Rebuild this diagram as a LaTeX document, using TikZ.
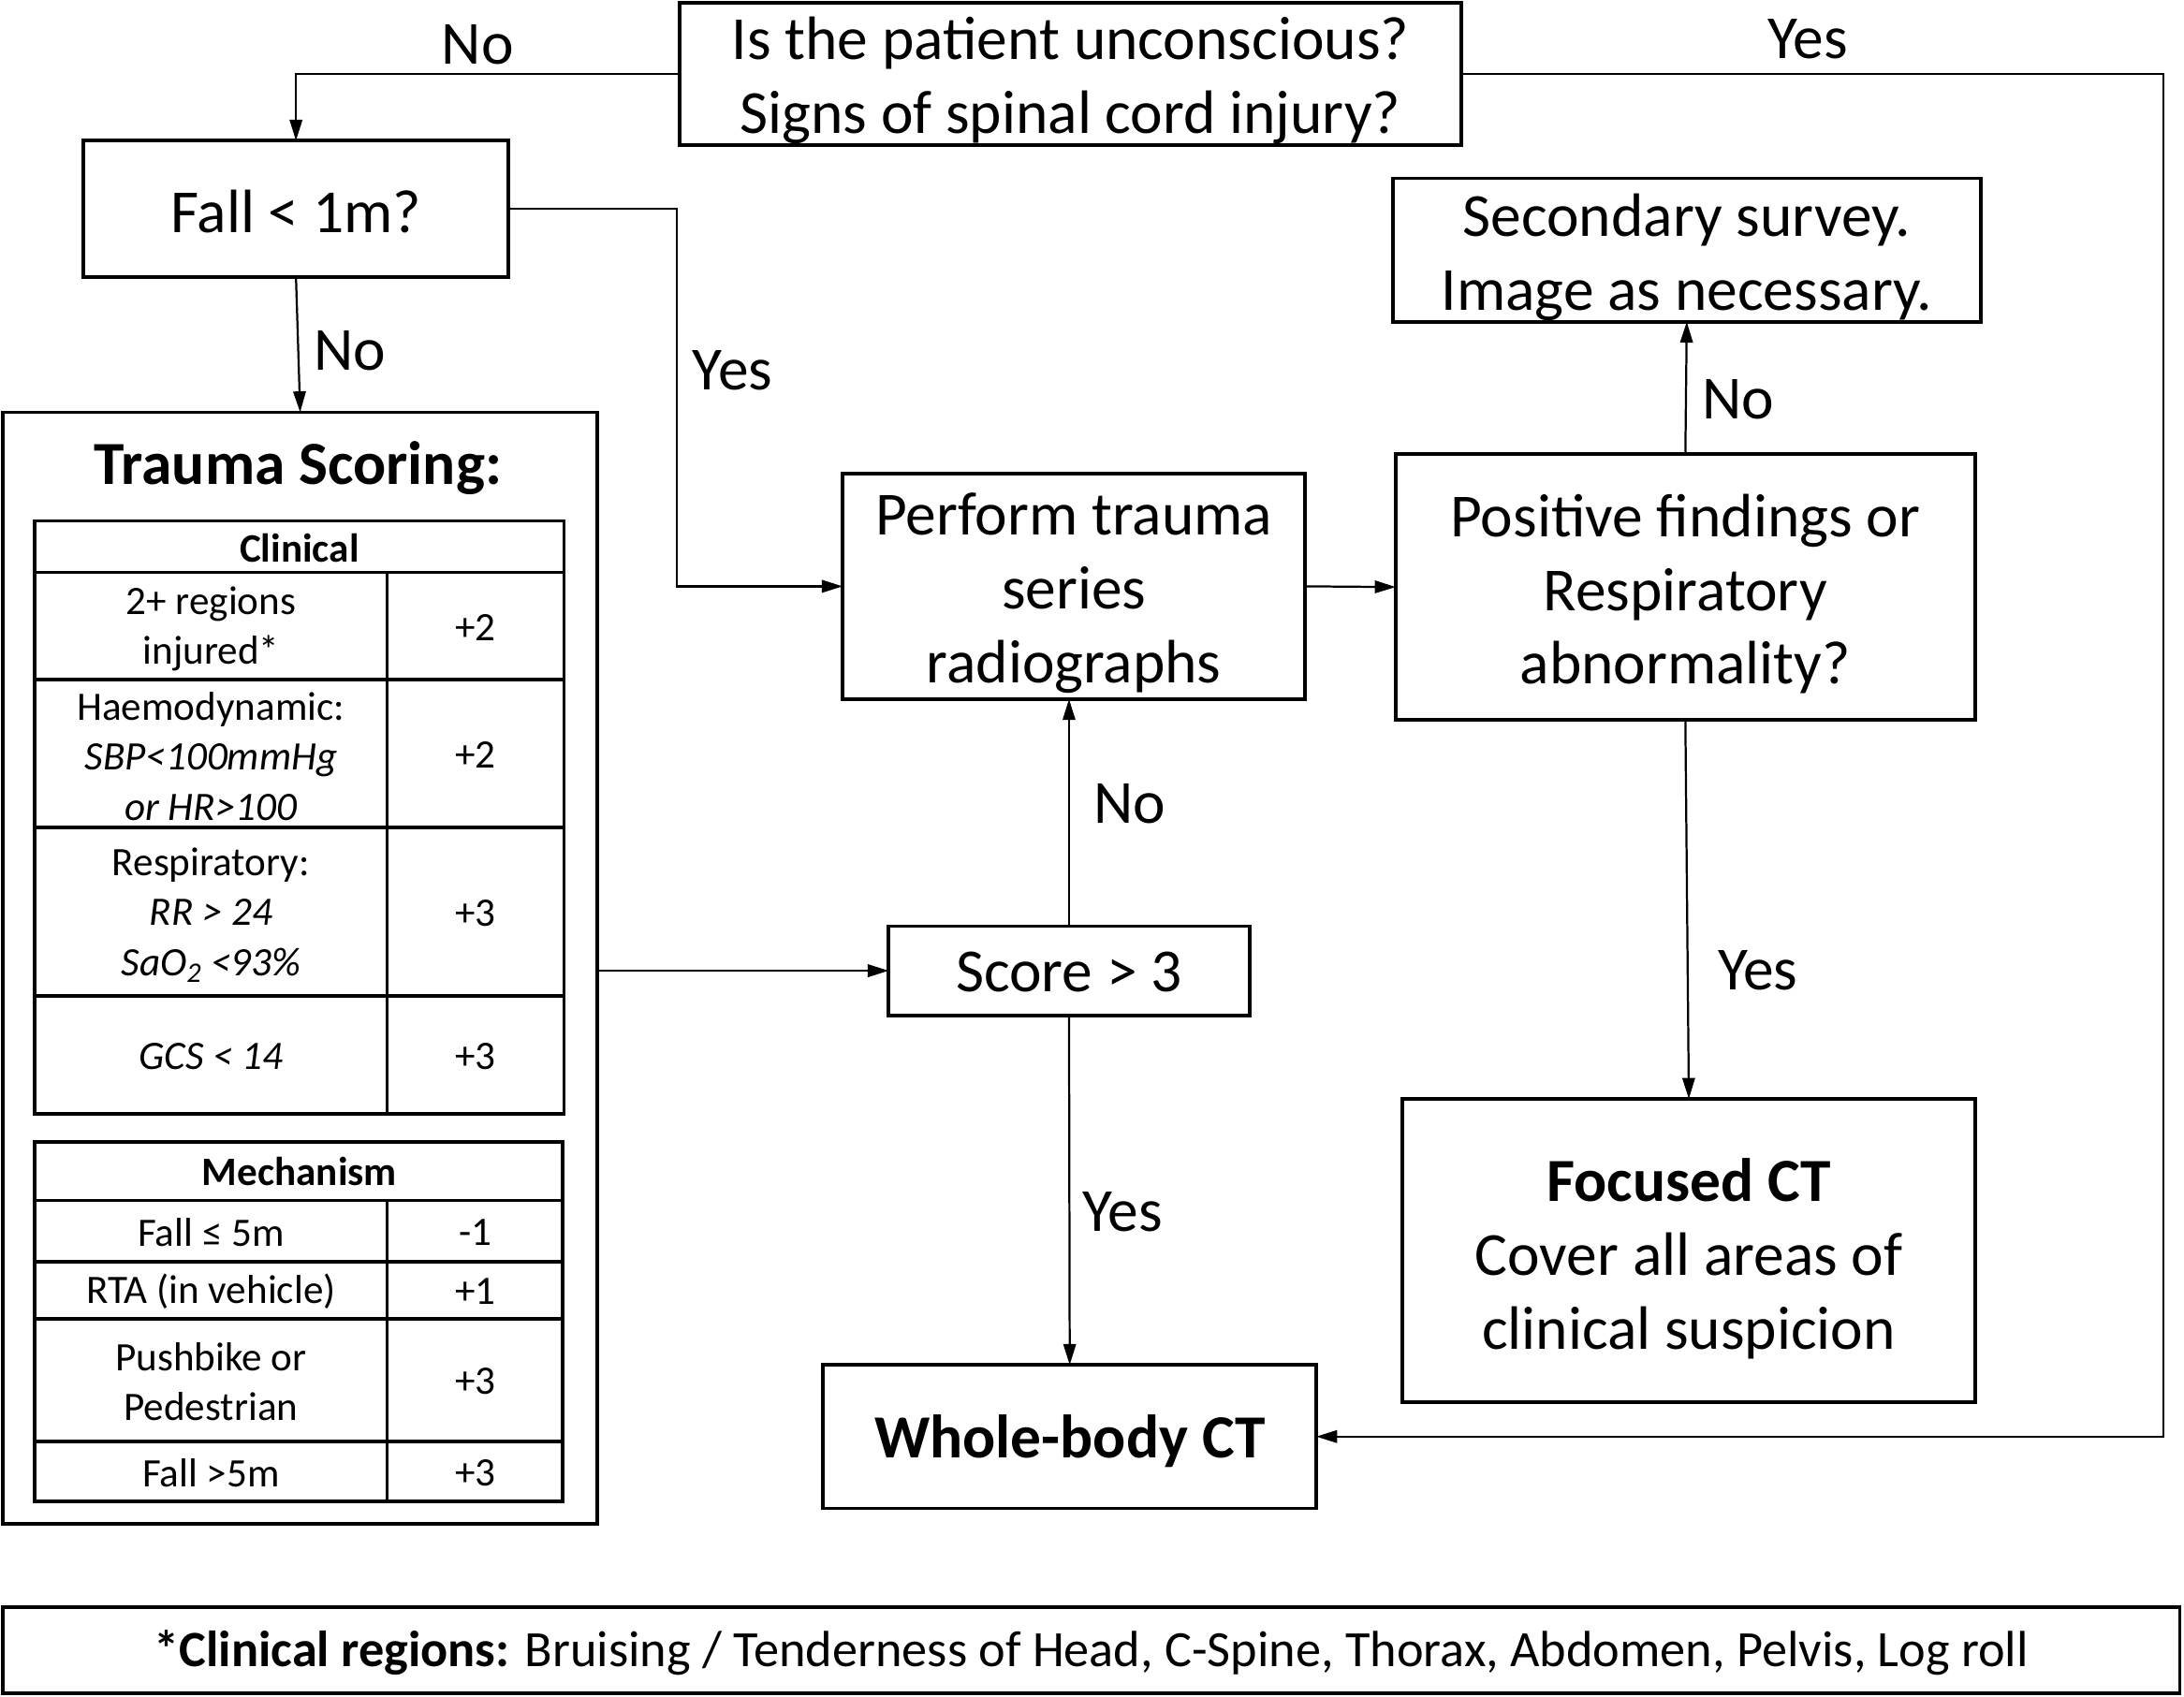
\documentclass[tikz,border=0pt]{standalone}
\usepackage{fontspec}
\setmainfont{Carlito}
\usetikzlibrary{arrows.meta,calc}
\tikzset{
  box/.style={draw, line width=2.5pt, inner sep=0pt, outer sep=0pt},
  btext/.style={inner sep=0pt, align=center, font=\fontsize{44}{53}\selectfont},
  conn/.style={line width=1.5pt, -{Triangle[length=15pt,width=9pt]}},
  lbl/.style={font=\fontsize{44}{53}\selectfont, anchor=base, inner sep=0pt},
  cell/.style={font=\fontsize{29}{36}\selectfont, align=center, inner sep=0pt},
  tline/.style={line width=2.5pt},
}
\begin{document}
\begin{tikzpicture}[x=1pt,y=-1pt]
\useasboundingbox (0,0) rectangle (1568,1218);

% main boxes
\node[box, minimum width=561pt, minimum height=102pt] (q1) at (768.5,53) {};
\node[btext] (q1t) at ($(q1)+(0,5)$) {Is the patient unconscious?\\Signs of spinal cord injury?};
\node[box, minimum width=305pt, minimum height=98pt] (fall) at (212.5,150) {};
\node[btext] (fallt) at ($(fall)+(0,2)$) {Fall < 1m?};
\node[box, minimum width=427pt, minimum height=798pt] (trauma) at (215.5,695) {};
\node[box, minimum width=332pt, minimum height=162pt] (perform) at (771,421) {};
\node[btext] (performt) at ($(perform)+(0,5)$) {Perform trauma\\series\\radiographs};
\node[box, minimum width=416pt, minimum height=191pt] (positive) at (1210,421.5) {};
\node[btext] (positivet) at ($(positive)+(0,5)$) {Positive findings or\\Respiratory\\abnormality?};
\node[box, minimum width=422pt, minimum height=103pt] (secondary) at (1211,179.5) {};
\node[btext] (secondaryt) at ($(secondary)+(0,5)$) {Secondary survey.\\Image as necessary.};
\node[box, minimum width=259pt, minimum height=64pt] (score) at (767.5,697) {};
\node[btext] (scoret) at ($(score)+(0,1)$) {Score > 3};
\node[box, minimum width=411pt, minimum height=218pt] (focused) at (1212.5,898) {};
\node[btext] (focusedt) at ($(focused)+(0,6)$) {\textbf{Focused CT}\\Cover all areas of\\clinical suspicion};
\node[box, minimum width=354pt, minimum height=103pt] (whole) at (768,1031.5) {};
\node[btext] (wholet) at ($(whole)+(0,3)$) {\textbf{Whole-body CT}};
\node[box, minimum width=1563pt, minimum height=62pt] (footer) at (783.5,1185) {};
\node[btext, font=\fontsize{36.5}{44}\selectfont] (footert) at ($(footer)+(0,2)$)
  {\textbf{*Clinical regions:} Bruising / Tenderness of Head, C-Spine, Thorax, Abdomen, Pelvis, Log roll};

% trauma scoring contents
\node[font=\bfseries\fontsize{44}{53}\selectfont, inner sep=0pt] (ttitle) at (214,336) {Trauma Scoring:};

% clinical table
\draw[tline] (25,374) rectangle (405,800);
\foreach \yy in {411,488,594,715} \draw[tline] (25,\yy) -- (405,\yy);
\draw[tline] (278,411) -- (278,800);
\node[cell, font=\bfseries\fontsize{29}{36}\selectfont] (clin) at (215,393.5) {Clinical};
\node[cell] (c1) at (151.5,451.5) {2+ regions\\injured*};
\node[cell] (v1) at (341.5,450.5) {+2};
\node[cell] (c2) at (151.5,543) {Haemodynamic:\\\textit{SBP<100mmHg}\\\textit{or HR>100}};
\node[cell] (v2) at (341.5,542) {+2};
\node[cell] (c3) at (151.5,657) {Respiratory:\\\textit{RR > 24}\\\textit{SaO\textsubscript{2} <93\%}};
\node[cell] (v3) at (341.5,655.5) {+3};
\node[cell] (c4) at (151.5,758.5) {\textit{GCS < 14}};
\node[cell] (v4) at (341.5,758.5) {+3};

% mechanism table
\draw[tline] (25,820) rectangle (404,1078);
\foreach \yy in {862,906,947,1035} \draw[tline] (25,\yy) -- (404,\yy);
\draw[tline] (278,862) -- (278,1078);
\node[cell, font=\bfseries\fontsize{29}{36}\selectfont] (mech) at (215,841) {Mechanism};
\node[cell] (m1) at (151.5,885) {Fall ≤ 5m};
\node[cell] (w1) at (341.5,885) {-1};
\node[cell] (m2) at (151.5,927.5) {RTA (in vehicle)};
\node[cell] (w2) at (341.5,927.5) {+1};
\node[cell] (m3) at (151.5,992) {Pushbike or\\Pedestrian};
\node[cell] (w3) at (341.5,992) {+3};
\node[cell] (m4) at (151.5,1057.5) {Fall >5m};
\node[cell] (w4) at (341.5,1057.5) {+3};

% connectors
\coordinate (rt) at (1553,53);
\coordinate (fy) at (486,150);
\draw[conn] (q1.west) -| (fall.north);
\draw[conn] (q1.east) -- (rt) |- (whole.east);
\draw[conn] (fall.south) -- (trauma.north);
\draw[conn] (fall.east) -- (fy) |- (perform.west);
\draw[conn] (trauma.east |- score.west) -- (score.west);
\draw[conn] (score.north) -- (score.north |- perform.south);
\draw[conn] (score.south) -- (whole.north);
\draw[conn] (perform.east) -- (positive.west);
\draw[conn] (positive.north) -- (secondary.south);
\draw[conn] (positive.south) -- (focused.north);

% labels
\node[lbl] (l1) at (343,46) {No};
\node[lbl] (l2) at (1298,42) {Yes};
\node[lbl] (l3) at (251,266) {No};
\node[lbl] (l4) at (526,280) {Yes};
\node[lbl] (l5) at (811,591) {No};
\node[lbl] (l6) at (806,884) {Yes};
\node[lbl] (l7) at (1248,301) {No};
\node[lbl] (l8) at (1262,711) {Yes};
\end{tikzpicture}
\end{document}
